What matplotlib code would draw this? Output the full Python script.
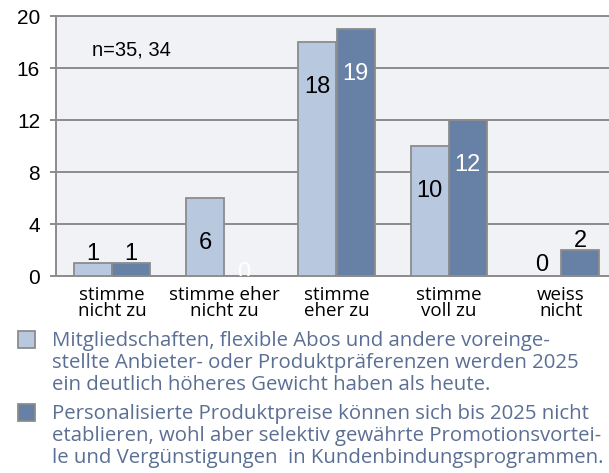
import matplotlib
matplotlib.use("Agg")
import numpy as np
import matplotlib.pyplot as plt
from matplotlib.patches import Rectangle

# data
categories = ["stimme\nnicht zu", "stimme eher\nnicht zu", "stimme\neher zu",
              "stimme\nvoll zu", "weiss\nnicht"]
series_a = [1, 6, 18, 10, 0]
series_b = [1, 0, 19, 12, 2]
series_names = [
    "Mitgliedschaften, flexible Abos und andere voreinge-\n"
    "stellte Anbieter- oder Produktpräferenzen werden 2025\n"
    "ein deutlich höheres Gewicht haben als heute.",
    "Personalisierte Produktpreise können sich bis 2025 nicht\n"
    "etablieren, wohl aber selektiv gewährte Promotionsvortei-\n"
    "le und Vergünstigungen  in Kundenbindungsprogrammen.",
]
yticks = [0, 4, 8, 12, 16, 20]
note = "n=35, 34"

LIGHT = "#B8C8DF"
DARK = "#6780A5"
EDGE = "#8C8C8C"
GRID = "#8C8C8C"
BG = "#F0F2F6"
LEGEND_TXT = "#5B6F94"
NUM_FONT = "Liberation Sans"
CAT_FONT = "Open Sans"

fig = plt.figure(figsize=(6.09, 4.73), dpi=100)
ax = fig.add_axes([56 / 609, 1 - 276.5 / 473, 561 / 609, 260 / 473])
ax.set_facecolor(BG)

x = np.arange(len(categories))
w = 0.34
bars_a = ax.bar(x - w / 2, series_a, w, color=LIGHT, edgecolor=EDGE, linewidth=1.3, zorder=3)
bars_b = ax.bar(x + w / 2, series_b, w, color=DARK, edgecolor=EDGE, linewidth=1.3, zorder=3)


def add_labels(bars, values, inside_color):
    for b, v in zip(bars, values):
        cx = b.get_x() + b.get_width() / 2
        if v >= 6:
            y, c = v - 3.4, inside_color
        elif v == 0 and inside_color == "white":
            y, c = 0.3, inside_color
        elif v == 0:
            y, c = 0.85, "black"
        else:
            y, c = v + 0.75, "black"
        ax.text(cx, y, str(v), ha="center", va="center", fontsize=17,
                family=NUM_FONT, color=c, zorder=4, clip_on=True)


add_labels(bars_a, series_a, "black")
add_labels(bars_b, series_b, "white")

ax.set_xlim(-0.5, 4.5)
ax.set_ylim(0, 20)
ax.set_yticks(yticks)
ax.set_yticklabels([str(t) for t in yticks], family=NUM_FONT, fontsize=15)
ax.yaxis.grid(True, color=GRID, linewidth=1.4, zorder=1)
ax.set_axisbelow(True)
ax.tick_params(axis="y", length=4.5, width=1.4, color=GRID, pad=7)
ax.set_xticks(x)
ax.set_xticklabels(categories, family=CAT_FONT, fontsize=13.5, linespacing=0.87)
ax.tick_params(axis="x", length=0, pad=7)
for s in ["left", "bottom", "top", "right"]:
    ax.spines[s].set_color(GRID)
    ax.spines[s].set_linewidth(1.4)

ax.text(0.064, 0.873, note, transform=ax.transAxes, ha="left", va="center",
        fontsize=14.5, family=NUM_FONT)

# legend drawn as boxes + wrapped text
legend_tops = [331, 404]
for top, color, name in zip(legend_tops, [LIGHT, DARK], series_names):
    fig.patches.append(Rectangle((18 / 609, 1 - (top + 17) / 473), 17 / 609, 17 / 473,
                                 transform=fig.transFigure, facecolor=color,
                                 edgecolor=EDGE, linewidth=1.3))
    fig.text(52 / 609, 1 - top / 473, name, ha="left", va="top",
             fontsize=14.7, family=CAT_FONT, color=LEGEND_TXT, linespacing=1.12)

fig.savefig("out.png", dpi=100)
